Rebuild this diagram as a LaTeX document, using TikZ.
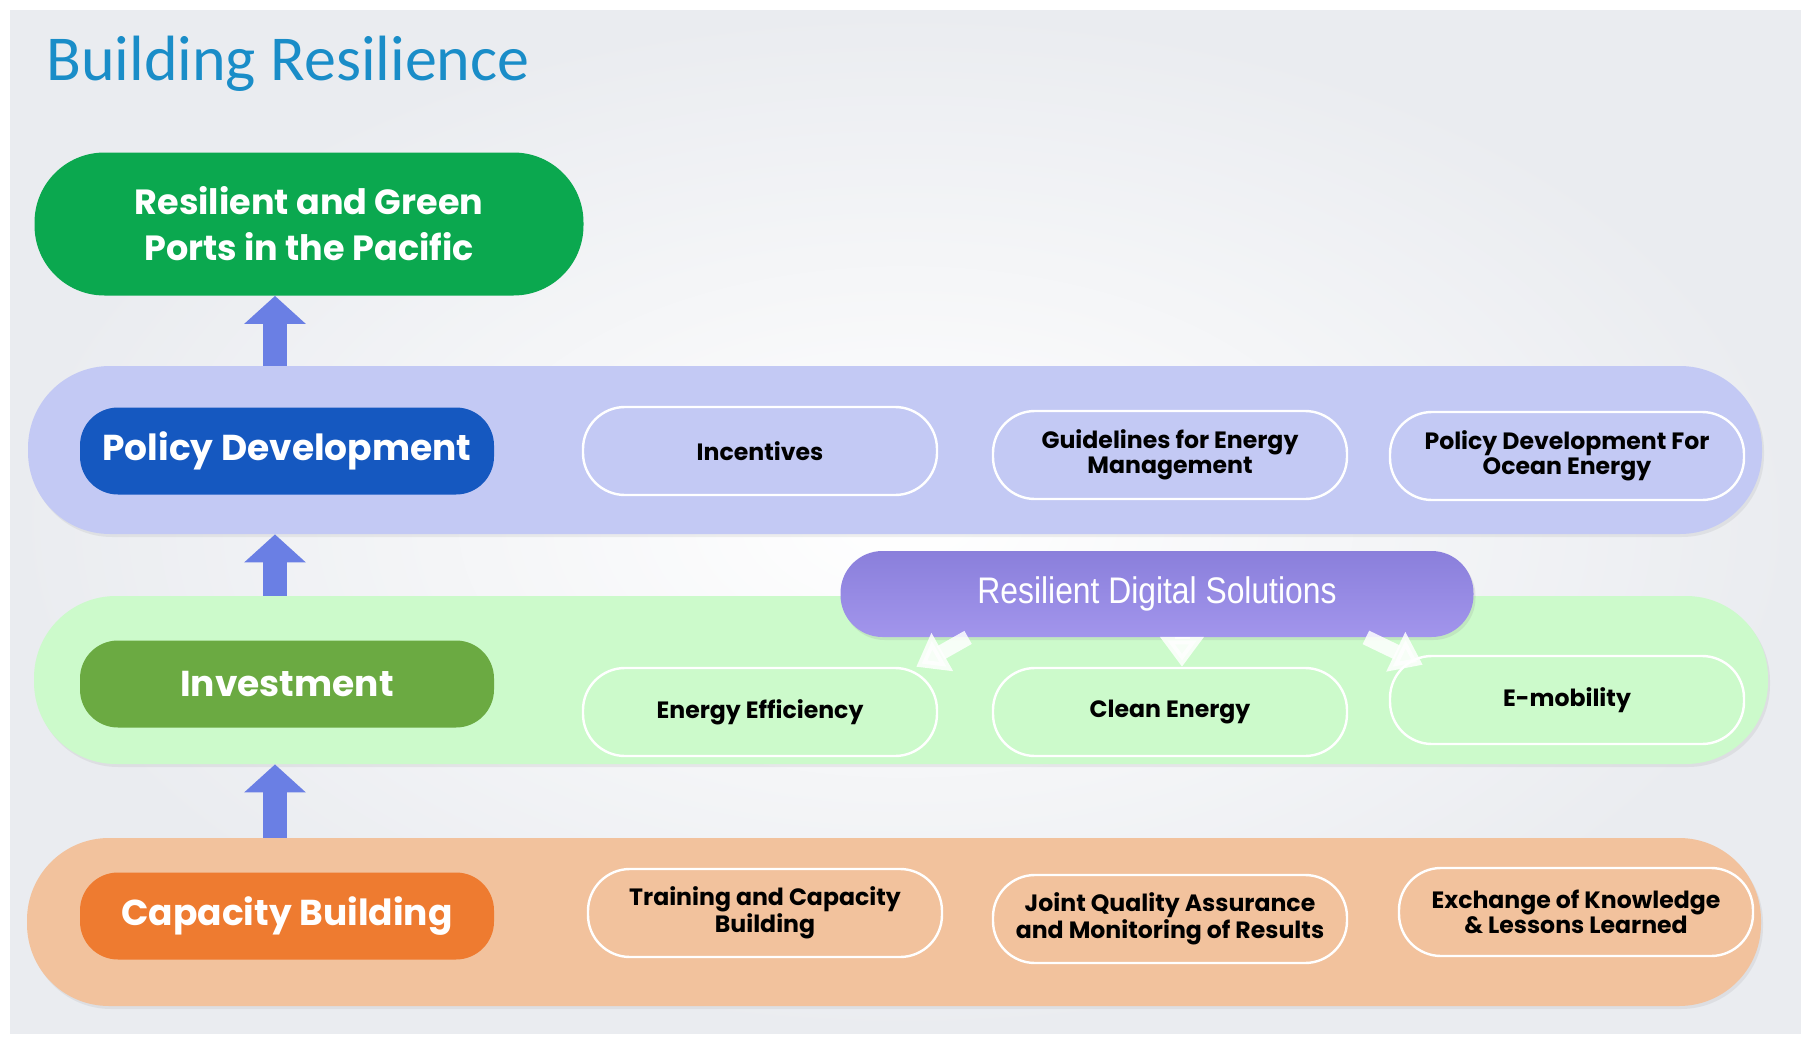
\documentclass[tikz,border=0pt]{standalone}
\usepackage{fontspec}
\setmainfont{Poppins}
\newfontfamily\titlefont{Carlito}
\newfontfamily\rdsfont[FakeStretch=0.86]{Liberation Sans}
\usetikzlibrary{arrows.meta,shadows}
\definecolor{titleblue}{HTML}{1A8DC8}
\definecolor{goalgreen}{HTML}{0BA84F}
\definecolor{policyblue}{HTML}{1558C0}
\definecolor{investgreen}{HTML}{6BAA42}
\definecolor{caporange}{HTML}{EE7B30}
\definecolor{policyband}{HTML}{C3C9F4}
\definecolor{investband}{HTML}{CCFACB}
\definecolor{capband}{HTML}{F2C29D}
\definecolor{digitaltop}{HTML}{8A7FDB}
\definecolor{digitalbot}{HTML}{A295EC}
\definecolor{arrowblue}{HTML}{6A7FE4}
\definecolor{bggray}{HTML}{EAECF0}

\begin{document}
\begin{tikzpicture}[x=0.5pt,y=-0.5pt,
    band/.style={fill=#1, rounded corners=41pt, minimum width=867pt, minimum height=84pt, inner sep=0pt,
      drop shadow={opacity=0.12, shadow xshift=1pt, shadow yshift=-1.5pt}},
    head/.style={fill=#1, text=white, rounded corners=19pt, minimum width=207pt, minimum height=43.5pt,
      inner sep=0pt, font=\bfseries\fontsize{18}{20}\selectfont},
    item/.style={fill=#1, draw=white, line width=1.2pt, rounded corners=21pt, minimum width=177pt,
      minimum height=44pt, inner sep=0pt, align=center, font=\bfseries\fontsize{11.8}{12.5}\selectfont},
    goalbox/.style={fill=goalgreen, text=white, rounded corners=35pt, minimum width=274.5pt,
      minimum height=71.5pt, inner sep=0pt, align=center, font=\bfseries\fontsize{17.5}{23}\selectfont},
    digital/.style={top color=digitaltop, bottom color=digitalbot, rounded corners=21pt,
      minimum width=316.5pt, minimum height=43pt, inner sep=0pt, text=white,
      font=\rdsfont\fontsize{18.5}{20}\selectfont,
      drop shadow={opacity=0.15, shadow xshift=1pt, shadow yshift=-1.5pt}},
    uparrow/.style={arrowblue, line width=12pt, -{Triangle[length=14pt,width=30pt]}},
    downarrow/.style={white, opacity=0.85, line width=7.5pt, -{Triangle[length=15pt,width=21pt]}}]
  \useasboundingbox (0,0) rectangle (1801,1044);
  \shade[inner color=white, outer color=bggray] (10,10) rectangle (1801,1033);

  \node[anchor=base west, inner sep=0pt, text=titleblue, font=\titlefont\fontsize{32}{36}\selectfont]
    (title) at (46,80) {Building Resilience};
  \node[goalbox] (goal) at (309,224) {Resilient and Green\\Ports in the Pacific};

  \node[band=policyband] (polband) at (895,450) {};
  \node[band=investband] (invband) at (901,680) {};
  \node[band=capband] (capband) at (894,922) {};

  \coordinate (col) at (275,0);
  \draw[uparrow] (polband.north -| col) -- (goal.south -| col);
  \draw[uparrow] (invband.north -| col) -- (polband.south -| col);
  \draw[uparrow] (capband.north -| col) -- (invband.south -| col);

  \node[head=policyblue] (policy) at (287,451) {Policy Development};
  \node[head=investgreen] (invest) at (287,684) {Investment};
  \node[head=caporange] (capacity) at (287,916) {Capacity Building};

  \node[item=policyband] (incent) at (760,451) {Incentives};
  \node[item=policyband] (guide) at (1170,455) {Guidelines for Energy\\Management};
  \node[item=policyband] (ocean) at (1567,456) {Policy Development For\\Ocean Energy};
  \node[item=investband] (effic) at (760,712) {Energy Efficiency};
  \node[item=investband] (clean) at (1170,712) {Clean Energy};
  \node[item=investband] (emob) at (1567,700) {E-mobility};
  \node[item=capband] (train) at (765,913) {Training and Capacity\\Building};
  \node[item=capband] (joint) at (1170,919) {Joint Quality Assurance\\and Monitoring of Results};
  \node[item=capband] (exch) at (1576,912) {Exchange of Knowledge\\\& Lessons Learned};

  \node[digital] (rds) at (1157,594) {Resilient Digital Solutions};
  \draw[downarrow] ([xshift=64pt]rds.south west) -- ([xshift=-11pt]effic.north east);
  \draw[downarrow] ([xshift=6pt]clean.north |- rds.south) -- ([xshift=6pt]clean.north);
  \draw[downarrow] ([xshift=-54pt]rds.south east) -- ([xshift=17pt,yshift=-5pt]emob.north west);
\end{tikzpicture}
\end{document}
